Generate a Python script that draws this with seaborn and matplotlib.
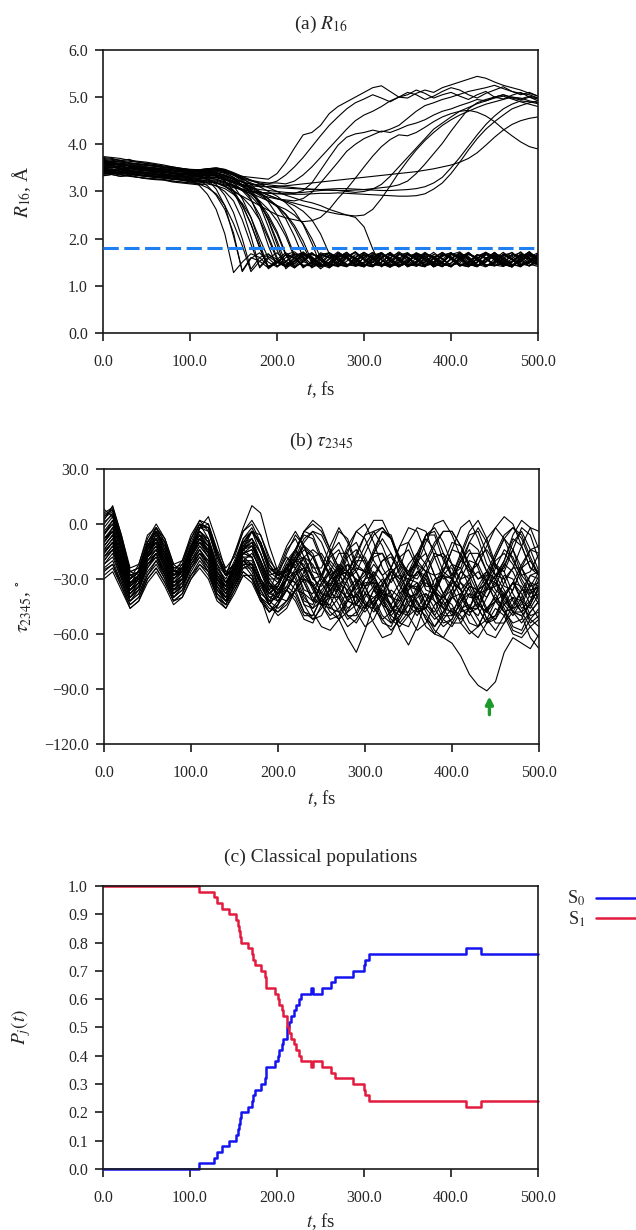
import matplotlib
matplotlib.use("Agg")
import matplotlib.pyplot as plt
from matplotlib.lines import Line2D
from matplotlib.ticker import FuncFormatter, MultipleLocator
import pandas as pd
import seaborn as sns

# sampling grid of the trajectories, fs
t_fs = list(range(0, 501, 10))

# (a) R16 in pm, trajectories that close the ring (end near 1.5 A)
r16_bound_pm = [
    [362, 360, 357, 354, 352, 349, 346, 342, 338, 334,
     326, 314, 294, 262, 210, 128, 150, 168, 160, 142,
     148, 166, 172, 158, 140, 146, 164, 158, 143, 152,
     170, 162, 147, 139, 155, 168, 160, 145, 150, 166,
     158, 142, 146, 163, 171, 155, 141, 150, 165, 157, 146],
    [348, 352, 350, 346, 345, 343, 341, 338, 335, 333,
     330, 324, 312, 292, 262, 212, 130, 158, 170, 150,
     140, 152, 168, 162, 145, 141, 158, 172, 160, 146,
     150, 165, 155, 140, 147, 163, 168, 152, 143, 156,
     170, 158, 144, 150, 166, 161, 146, 140, 157, 168, 154],
    [372, 370, 366, 368, 362, 360, 357, 352, 350, 345,
     342, 336, 326, 305, 270, 205, 132, 160, 152, 138,
     150, 166, 158, 142, 148, 170, 164, 148, 140, 156,
     164, 150, 142, 158, 172, 160, 145, 150, 162, 148,
     140, 156, 168, 158, 144, 146, 165, 170, 152, 142, 158],
    [356, 358, 355, 350, 352, 348, 344, 345, 340, 336,
     335, 332, 326, 315, 292, 255, 200, 135, 160, 168,
     150, 140, 152, 166, 160, 144, 148, 168, 162, 146,
     141, 157, 170, 158, 143, 150, 164, 156, 140, 148,
     166, 172, 156, 142, 151, 163, 148, 140, 160, 170, 158],
    [340, 338, 342, 336, 334, 332, 330, 328, 326, 324,
     320, 316, 308, 295, 270, 232, 185, 130, 152, 166,
     156, 140, 146, 162, 170, 154, 141, 150, 167, 160,
     144, 142, 160, 168, 152, 145, 158, 171, 158, 142,
     148, 165, 160, 143, 150, 168, 162, 146, 140, 156, 165],
    [365, 362, 360, 358, 355, 352, 350, 348, 345, 342,
     340, 338, 340, 334, 322, 300, 262, 205, 138, 158,
     170, 152, 140, 150, 166, 160, 145, 142, 162, 172,
     156, 143, 150, 165, 158, 140, 148, 168, 163, 147,
     142, 159, 170, 155, 141, 152, 166, 158, 144, 150, 164],
    [350, 346, 348, 344, 342, 340, 337, 335, 332, 330,
     326, 322, 318, 312, 300, 280, 240, 188, 140, 162,
     150, 142, 158, 170, 160, 146, 143, 162, 168, 151,
     140, 155, 167, 158, 145, 150, 170, 162, 146, 141,
     158, 168, 150, 142, 156, 165, 148, 140, 160, 172, 155],
    [358, 360, 354, 356, 350, 348, 347, 344, 340, 338,
     336, 335, 338, 336, 328, 312, 285, 245, 190, 138,
     156, 170, 158, 142, 148, 165, 160, 144, 141, 160,
     171, 156, 143, 152, 168, 160, 146, 142, 158, 170,
     160, 145, 150, 166, 157, 142, 148, 164, 170, 152, 143],
    [344, 342, 345, 340, 338, 336, 333, 332, 328, 326,
     324, 322, 325, 320, 312, 296, 270, 232, 180, 140,
     152, 144, 160, 172, 156, 142, 150, 166, 158, 141,
     147, 165, 170, 152, 140, 155, 163, 148, 145, 162,
     170, 158, 143, 150, 168, 160, 144, 142, 161, 167, 150],
    [368, 366, 364, 360, 358, 356, 354, 350, 348, 346,
     344, 342, 345, 346, 340, 330, 312, 284, 240, 185,
     140, 160, 168, 152, 142, 156, 170, 161, 146, 143,
     160, 170, 155, 141, 150, 166, 158, 144, 148, 165,
     162, 146, 141, 158, 171, 157, 143, 152, 167, 160, 148],
    [336, 338, 335, 332, 330, 327, 325, 324, 320, 318,
     316, 314, 316, 312, 306, 294, 275, 245, 200, 158,
     142, 150, 165, 170, 155, 140, 146, 162, 160, 144,
     150, 168, 161, 145, 142, 158, 170, 154, 141, 149,
     166, 160, 144, 150, 170, 163, 147, 140, 155, 168, 157],
    [360, 357, 359, 354, 352, 350, 349, 346, 344, 341,
     340, 338, 342, 345, 342, 335, 322, 302, 272, 225,
     175, 140, 154, 168, 162, 146, 141, 160, 171, 155,
     143, 150, 166, 159, 142, 148, 168, 164, 149, 140,
     156, 170, 158, 143, 152, 165, 150, 141, 160, 172, 153],
    [347, 345, 343, 346, 341, 339, 336, 334, 332, 330,
     328, 326, 329, 330, 326, 318, 302, 282, 250, 205,
     160, 142, 152, 166, 158, 141, 149, 170, 160, 145,
     142, 160, 170, 154, 143, 150, 165, 158, 140, 152,
     168, 161, 145, 142, 158, 170, 152, 144, 151, 166, 160],
    [352, 355, 350, 348, 350, 345, 342, 343, 338, 336,
     334, 333, 336, 338, 334, 326, 315, 298, 275, 240,
     195, 148, 138, 155, 168, 160, 144, 143, 162, 170,
     154, 141, 150, 166, 160, 145, 142, 158, 171, 156,
     143, 152, 167, 158, 141, 148, 168, 163, 147, 142, 159],
    [364, 362, 365, 360, 357, 355, 353, 351, 348, 346,
     345, 344, 346, 348, 345, 338, 325, 305, 278, 238,
     188, 136, 152, 166, 157, 142, 148, 170, 162, 146,
     140, 158, 169, 154, 143, 152, 166, 158, 141, 149,
     167, 160, 145, 141, 158, 171, 155, 143, 152, 165, 150],
    [340, 343, 338, 340, 335, 334, 332, 330, 327, 326,
     324, 325, 328, 326, 320, 312, 302, 290, 270, 245,
     210, 165, 138, 152, 168, 160, 145, 141, 158, 172,
     157, 143, 150, 166, 160, 142, 146, 167, 162, 148,
     140, 156, 170, 158, 142, 150, 165, 155, 141, 152, 168],
    [355, 352, 354, 350, 348, 347, 345, 342, 341, 338,
     338, 340, 343, 340, 334, 325, 312, 296, 276, 250,
     215, 168, 142, 158, 170, 156, 141, 148, 165, 160,
     145, 140, 158, 171, 155, 143, 152, 168, 160, 146,
     141, 160, 169, 153, 142, 150, 166, 158, 144, 148, 164],
    [370, 368, 366, 364, 362, 359, 357, 354, 352, 349,
     347, 346, 348, 350, 346, 338, 328, 315, 298, 278,
     250, 212, 165, 138, 152, 168, 160, 144, 142, 160,
     171, 156, 143, 150, 167, 160, 145, 140, 157, 170,
     158, 142, 150, 166, 160, 144, 141, 158, 172, 156, 145],
    [345, 348, 342, 344, 340, 338, 336, 335, 332, 330,
     329, 328, 330, 326, 320, 314, 305, 294, 280, 262,
     238, 205, 160, 140, 148, 166, 170, 155, 141, 150,
     165, 160, 144, 142, 158, 170, 156, 143, 151, 167,
     160, 145, 140, 157, 169, 154, 142, 150, 166, 158, 146],
    [358, 356, 360, 355, 353, 350, 349, 347, 344, 342,
     340, 339, 342, 343, 338, 330, 320, 310, 298, 285,
     268, 242, 205, 160, 138, 150, 166, 161, 145, 142,
     160, 171, 156, 143, 150, 167, 158, 142, 147, 165,
     170, 155, 141, 150, 166, 160, 144, 142, 160, 172, 158],
    [350, 347, 349, 345, 343, 341, 340, 337, 335, 334,
     332, 333, 335, 332, 326, 318, 310, 302, 292, 280,
     268, 250, 222, 185, 148, 140, 156, 168, 160, 145,
     142, 160, 170, 152, 140, 150, 165, 158, 144, 150,
     167, 162, 146, 141, 158, 170, 155, 143, 152, 164, 157],
    [362, 360, 358, 356, 354, 351, 349, 347, 345, 343,
     342, 341, 344, 346, 342, 334, 326, 318, 310, 300,
     290, 276, 258, 230, 190, 145, 138, 154, 167, 160,
     145, 143, 161, 170, 154, 141, 150, 166, 158, 142,
     148, 168, 162, 146, 140, 157, 171, 156, 143, 152, 166],
    [338, 340, 336, 338, 334, 332, 330, 329, 326, 324,
     322, 322, 324, 322, 316, 310, 302, 296, 288, 280,
     270, 262, 250, 232, 200, 160, 138, 150, 166, 159,
     144, 141, 158, 170, 157, 143, 152, 168, 160, 146,
     142, 160, 171, 155, 141, 150, 165, 158, 143, 149, 168],
    [352, 350, 353, 348, 346, 345, 342, 340, 338, 337,
     335, 336, 338, 335, 330, 322, 315, 308, 300, 292,
     285, 278, 270, 258, 240, 210, 168, 140, 152, 166,
     160, 145, 142, 160, 170, 154, 141, 150, 167, 158,
     143, 148, 166, 161, 145, 142, 158, 171, 156, 142, 150],
    [366, 364, 362, 360, 358, 356, 353, 351, 349, 347,
     346, 345, 348, 350, 347, 340, 332, 324, 316, 308,
     300, 292, 286, 280, 276, 270, 262, 256, 250, 245,
     225, 178, 140, 152, 168, 160, 144, 141, 160, 171,
     156, 142, 150, 166, 158, 143, 147, 167, 162, 146, 141],
    [342, 344, 340, 342, 338, 336, 335, 333, 330, 329,
     328, 329, 332, 330, 326, 320, 314, 306, 296, 284,
     270, 252, 228, 195, 152, 136, 150, 165, 160, 144,
     141, 158, 170, 155, 142, 150, 166, 159, 143, 148,
     168, 163, 147, 140, 156, 170, 157, 144, 150, 165, 160],
    [374, 372, 370, 366, 364, 362, 359, 356, 352, 349,
     346, 343, 340, 334, 322, 302, 272, 230, 182, 136,
     150, 166, 160, 144, 142, 161, 170, 153, 141, 150,
     167, 158, 143, 146, 165, 170, 155, 142, 150, 166,
     160, 144, 141, 158, 171, 156, 143, 152, 167, 160, 146],
    [333, 336, 332, 334, 330, 328, 327, 325, 322, 320,
     318, 317, 320, 318, 312, 302, 288, 268, 240, 200,
     155, 140, 148, 166, 160, 145, 142, 160, 171, 156,
     143, 150, 166, 158, 141, 148, 168, 163, 147, 142,
     158, 170, 154, 141, 151, 166, 160, 144, 143, 161, 170],
]

# (a) R16 in pm, trajectories that stay open (end near 5 A)
r16_open_pm = [
    [354, 356, 352, 350, 349, 347, 345, 342, 340, 338,
     336, 336, 340, 342, 340, 336, 332, 330, 328, 326,
     338, 362, 392, 420, 425, 440, 465, 480, 490, 500,
     510, 520, 524, 512, 500, 505, 515, 508, 498, 505,
     510, 502, 495, 505, 512, 500, 496, 504, 510, 500, 496],
    [345, 343, 346, 342, 340, 339, 336, 334, 332, 331,
     330, 331, 334, 335, 332, 326, 320, 316, 314, 316,
     322, 335, 352, 372, 395, 418, 440, 458, 475, 488,
     496, 505, 498, 490, 500, 510, 505, 495, 502, 512,
     520, 515, 505, 498, 508, 515, 522, 512, 505, 510, 502],
    [362, 360, 358, 355, 356, 352, 350, 348, 346, 344,
     342, 343, 346, 348, 344, 338, 330, 324, 320, 318,
     318, 316, 322, 335, 352, 372, 392, 412, 432, 450,
     462, 470, 480, 492, 500, 498, 508, 515, 510, 520,
     526, 532, 538, 544, 540, 532, 525, 520, 515, 508, 502],
    [340, 338, 341, 337, 335, 333, 331, 330, 327, 325,
     323, 322, 325, 324, 318, 312, 305, 300, 298, 296,
     295, 294, 296, 302, 318, 345, 372, 398, 415, 422,
     425, 430, 426, 432, 440, 455, 470, 482, 488, 495,
     500, 506, 512, 516, 520, 525, 518, 512, 508, 505, 498],
    [350, 352, 348, 350, 346, 344, 342, 340, 338, 336,
     334, 335, 338, 336, 330, 322, 312, 302, 294, 288,
     284, 282, 280, 285, 298, 318, 340, 362, 385, 400,
     412, 420, 428, 425, 432, 440, 445, 452, 462, 470,
     475, 482, 488, 495, 492, 500, 505, 498, 494, 500, 492],
    [338, 340, 337, 336, 334, 332, 330, 328, 326, 325,
     322, 320, 322, 318, 310, 300, 290, 280, 270, 260,
     250, 244, 240, 236, 238, 245, 262, 285, 305, 328,
     352, 375, 395, 410, 420, 418, 425, 436, 448, 458,
     465, 470, 472, 468, 460, 448, 432, 418, 405, 395, 390],
    [358, 356, 357, 353, 351, 349, 347, 345, 343, 341,
     340, 339, 341, 340, 335, 328, 320, 310, 300, 292,
     285, 280, 275, 270, 265, 260, 256, 252, 250, 248,
     250, 262, 285, 312, 340, 365, 388, 408, 425, 440,
     452, 462, 470, 478, 485, 490, 495, 500, 498, 492, 488],
    [346, 344, 347, 343, 341, 340, 338, 336, 334, 332,
     331, 332, 335, 333, 327, 320, 314, 308, 304, 302,
     300, 298, 297, 298, 300, 302, 303, 302, 300, 298,
     300, 305, 315, 332, 352, 372, 392, 412, 432, 445,
     458, 470, 478, 486, 492, 498, 502, 496, 490, 485, 480],
    [366, 363, 365, 361, 359, 357, 355, 352, 350, 348,
     346, 346, 348, 347, 342, 335, 328, 322, 318, 314,
     312, 310, 308, 306, 305, 304, 303, 302, 302, 303,
     304, 306, 308, 310, 314, 322, 338, 358, 380, 402,
     428, 452, 475, 488, 495, 500, 505, 500, 496, 502, 498],
    [334, 336, 332, 334, 330, 328, 326, 325, 322, 320,
     318, 318, 320, 318, 314, 308, 304, 300, 298, 297,
     296, 295, 294, 294, 295, 296, 296, 297, 296, 295,
     294, 293, 292, 291, 290, 290, 291, 295, 305, 318,
     338, 362, 388, 412, 432, 448, 462, 475, 482, 488, 492],
    [352, 350, 354, 349, 347, 346, 344, 342, 340, 338,
     337, 338, 341, 339, 333, 326, 320, 315, 312, 310,
     308, 307, 306, 305, 304, 304, 305, 306, 306, 305,
     304, 303, 302, 302, 303, 304, 306, 310, 318, 330,
     350, 372, 396, 420, 442, 460, 475, 485, 492, 490, 486],
    [340, 342, 339, 340, 336, 334, 333, 331, 328, 327,
     326, 327, 330, 329, 324, 318, 314, 312, 310, 310,
     311, 312, 314, 316, 318, 320, 322, 324, 326, 328,
     330, 332, 334, 336, 338, 340, 342, 345, 348, 352,
     356, 362, 370, 382, 398, 415, 430, 442, 450, 455, 458],
]
r16_threshold = 1.8  # A, dashed reference line

# (b) torsion tau2345 in degrees
tau2345_deg = [
    [-10, -2, -20, -33, -25, -12, -8, -20, -30, -24,
     -12, -6, -16, -30, -34, -22, -14, -18, -30, -36,
     -26, -18, -24, -36, -38, -28, -20, -26, -38, -40,
     -30, -22, -28, -40, -42, -32, -22, -26, -38, -40,
     -30, -20, -24, -36, -40, -30, -22, -26, -36, -38, -28],
    [5, 8, -10, -28, -30, -18, -5, -10, -25, -28,
     -18, -2, 0, -15, -28, -26, -12, -4, -10, -22,
     -30, -28, -18, -8, -4, -10, -22, -28, -26, -16,
     -6, -4, -12, -24, -30, -26, -16, -6, -2, -10,
     -22, -30, -28, -18, -8, -2, -8, -20, -28, -26, -16],
    [-25, -22, -32, -42, -38, -28, -22, -30, -40, -36,
     -28, -20, -26, -38, -44, -36, -26, -30, -42, -48,
     -42, -34, -38, -48, -52, -46, -38, -40, -50, -54,
     -46, -36, -40, -52, -56, -50, -40, -38, -46, -54,
     -52, -42, -38, -46, -54, -52, -44, -40, -48, -56, -52],
    [-15, -10, -25, -38, -32, -18, -14, -24, -36, -30,
     -18, -10, -18, -32, -38, -28, -16, -12, -20, -32,
     -40, -42, -36, -26, -18, -16, -24, -34, -42, -44,
     -38, -28, -20, -18, -26, -38, -46, -46, -38, -28,
     -22, -24, -34, -44, -48, -42, -32, -24, -24, -32, -42],
    [0, 6, -12, -30, -26, -10, -4, -16, -28, -22,
     -8, 0, -8, -24, -30, -20, -8, -4, -16, -28,
     -26, -14, -8, -18, -30, -28, -16, -10, -20, -32,
     -28, -16, -8, -16, -28, -30, -18, -8, -14, -26,
     -30, -20, -10, -14, -26, -30, -20, -8, -12, -24, -28],
    [-20, -14, -28, -40, -34, -22, -16, -26, -38, -34,
     -24, -16, -20, -34, -42, -34, -24, -22, -32, -44,
     -50, -46, -36, -30, -34, -44, -52, -50, -40, -32,
     -34, -44, -54, -56, -46, -36, -32, -40, -50, -56,
     -52, -42, -34, -36, -46, -54, -54, -44, -36, -36, -44],
    [2, 10, -6, -26, -28, -14, -2, -8, -22, -26,
     -16, -2, 4, -10, -26, -28, -14, -4, -6, -18,
     -28, -26, -14, -4, -6, -18, -30, -28, -16, -4,
     0, -10, -24, -32, -24, -10, -2, -4, -18, -30,
     -28, -16, -4, 2, -8, -22, -30, -24, -12, -2, -4],
    [-8, -4, -18, -34, -30, -16, -10, -20, -32, -28,
     -16, -8, -12, -28, -36, -28, -16, -14, -26, -36,
     -32, -22, -24, -38, -42, -32, -24, -30, -42, -44,
     -34, -26, -32, -46, -48, -36, -26, -30, -42, -46,
     -36, -26, -30, -44, -48, -38, -28, -30, -42, -46, -38],
    [-12, -6, -22, -36, -30, -16, -10, -22, -34, -28,
     -16, -8, -16, -30, -36, -26, -16, -18, -30, -38,
     -34, -24, -20, -30, -40, -44, -36, -28, -34, -44,
     -48, -42, -36, -40, -48, -50, -46, -50, -58, -62,
     -65, -72, -82, -88, -91, -86, -70, -62, -65, -68, -60],
    [-28, -24, -34, -44, -40, -30, -24, -32, -42, -38,
     -28, -22, -28, -40, -44, -34, -26, -30, -40, -46,
     -48, -42, -36, -38, -48, -56, -58, -52, -42, -38,
     -44, -54, -62, -60, -50, -42, -42, -52, -60, -62,
     -54, -46, -44, -52, -60, -62, -54, -48, -50, -62, -68],
    [8, 4, -14, -30, -22, -6, -2, -14, -26, -20,
     -6, 2, -4, -20, -28, -16, -4, 0, -10, -24,
     -28, -24, -14, -4, 0, -4, -14, -24, -28, -22,
     -12, -4, -2, -8, -20, -28, -28, -20, -10, -4,
     -4, -12, -24, -30, -26, -16, -6, -2, -8, -20, -28],
    [-18, -12, -26, -38, -34, -20, -16, -28, -38, -32,
     -20, -14, -22, -36, -40, -30, -20, -26, -38, -42,
     -34, -24, -30, -42, -44, -32, -26, -36, -46, -42,
     -30, -28, -40, -48, -40, -30, -32, -44, -48, -38,
     -30, -36, -46, -46, -34, -28, -36, -46, -44, -34, -32],
    [-5, 0, -16, -32, -28, -14, -8, -18, -30, -26,
     -14, -4, -10, -26, -34, -26, -14, -10, -22, -34,
     -38, -34, -24, -18, -22, -32, -40, -40, -30, -20,
     -20, -30, -40, -44, -36, -26, -20, -26, -38, -44,
     -40, -30, -20, -22, -32, -42, -44, -36, -24, -20, -28],
    [-22, -16, -30, -42, -36, -24, -18, -28, -40, -34,
     -22, -16, -24, -38, -42, -30, -20, -24, -36, -44,
     -38, -30, -36, -48, -50, -40, -32, -40, -50, -50,
     -40, -34, -44, -54, -50, -40, -38, -48, -56, -50,
     -40, -38, -48, -56, -52, -42, -38, -48, -54, -48, -42],
    [-6, 2, -14, -30, -26, -12, -4, -14, -28, -24,
     -12, -4, -8, -22, -28, -16, -2, 10, 6, -12,
     -26, -30, -20, -12, -16, -28, -34, -26, -14, -10,
     -20, -32, -34, -24, -12, -10, -22, -34, -34, -22,
     -10, -12, -24, -36, -32, -18, -8, -14, -28, -34, -26],
    [-14, -8, -24, -36, -30, -18, -12, -22, -34, -30,
     -18, -10, -14, -30, -38, -28, -18, -22, -40, -54,
     -44, -30, -26, -32, -42, -44, -34, -24, -28, -40,
     -46, -42, -32, -26, -30, -40, -48, -46, -36, -28,
     -30, -40, -48, -46, -36, -28, -30, -42, -48, -44, -34],
    [-16, -10, -24, -36, -32, -20, -14, -24, -34, -30,
     -20, -12, -18, -32, -38, -30, -20, -22, -32, -38,
     -32, -24, -28, -40, -46, -42, -44, -52, -62, -70,
     -58, -44, -38, -44, -54, -56, -46, -38, -42, -52,
     -56, -48, -38, -40, -52, -58, -50, -40, -42, -52, -56],
    [-10, -4, -20, -34, -28, -14, -8, -18, -30, -26,
     -14, -6, -12, -28, -34, -24, -12, -12, -24, -34,
     -34, -24, -18, -24, -34, -38, -30, -22, -26, -38,
     -44, -40, -36, -44, -58, -66, -56, -42, -36, -42,
     -50, -44, -34, -36, -48, -52, -40, -32, -38, -50, -48],
    [-2, 4, -12, -28, -26, -12, -4, -12, -26, -26,
     -14, -2, -2, -16, -28, -24, -10, -4, -10, -24,
     -28, -16, -6, -12, -26, -28, -16, -4, -8, -22,
     -26, -16, -4, -6, -20, -28, -20, -6, -4, -16,
     -28, -24, -10, -2, -10, -24, -26, -14, -2, -6, -20],
    [-24, -20, -32, -44, -40, -28, -20, -30, -42, -38,
     -26, -18, -26, -40, -44, -32, -22, -28, -40, -44,
     -36, -28, -32, -44, -52, -50, -40, -32, -36, -48,
     -56, -52, -42, -36, -40, -50, -58, -54, -44, -40,
     -44, -54, -60, -56, -46, -42, -48, -58, -60, -52, -46],
    [-12, -6, -22, -34, -28, -14, -10, -22, -32, -26,
     -14, -8, -14, -28, -34, -24, -14, -10, -20, -32,
     -38, -36, -28, -18, -14, -18, -28, -36, -40, -34,
     -24, -16, -16, -24, -34, -40, -38, -28, -18, -16,
     -22, -32, -40, -40, -30, -20, -16, -22, -32, -40, -38],
    [3, 7, -8, -26, -24, -10, -2, -10, -24, -22,
     -10, 0, -2, -18, -28, -22, -8, -2, -12, -26,
     -24, -12, -4, -12, -24, -24, -12, -2, -10, -24,
     -26, -14, -4, -8, -22, -28, -18, -6, -6, -20,
     -28, -18, -6, -4, -16, -28, -24, -10, -4, -14, -26],
    [-18, -12, -28, -40, -34, -22, -16, -26, -36, -32,
     -22, -14, -22, -34, -40, -32, -22, -22, -34, -42,
     -46, -42, -32, -28, -34, -44, -50, -46, -36, -30,
     -34, -46, -52, -48, -38, -32, -36, -46, -52, -48,
     -38, -32, -36, -46, -54, -50, -40, -32, -34, -44, -52],
    [-8, -2, -18, -32, -28, -14, -6, -16, -28, -26,
     -14, -6, -8, -22, -32, -26, -14, -8, -16, -30,
     -36, -30, -18, -12, -18, -30, -36, -30, -18, -14,
     -22, -34, -38, -30, -18, -14, -24, -36, -38, -26,
     -14, -16, -28, -38, -36, -24, -14, -18, -30, -38, -34],
    [-14, -8, -22, -36, -32, -18, -12, -22, -34, -30,
     -18, -10, -16, -30, -36, -26, -16, -18, -30, -38,
     -34, -24, -20, -26, -36, -44, -46, -40, -30, -24,
     -26, -36, -44, -48, -42, -32, -26, -28, -38, -46,
     -48, -40, -30, -26, -32, -42, -48, -46, -36, -28, -30],
    [-26, -22, -34, -46, -42, -30, -24, -32, -42, -40,
     -30, -22, -26, -40, -46, -38, -28, -28, -40, -48,
     -44, -36, -42, -52, -54, -44, -40, -48, -56, -52,
     -44, -42, -52, -58, -52, -44, -46, -56, -60, -52,
     -46, -50, -58, -62, -54, -46, -50, -60, -62, -56, -62],
    [6, 9, -6, -24, -22, -8, 0, -8, -22, -20,
     -8, 2, 0, -14, -24, -18, -4, 2, -6, -20,
     -26, -26, -16, -4, 2, -2, -14, -24, -26, -18,
     -6, 2, 2, -8, -20, -26, -22, -10, 0, 2,
     -6, -18, -26, -22, -12, -2, 4, 0, -12, -24, -26],
    [-16, -10, -26, -38, -34, -20, -14, -24, -36, -32,
     -20, -12, -18, -32, -40, -30, -18, -18, -30, -40,
     -38, -26, -22, -32, -42, -42, -30, -24, -32, -44,
     -46, -36, -30, -38, -48, -48, -36, -30, -38, -50,
     -50, -38, -32, -40, -52, -50, -38, -32, -42, -54, -50],
    [-6, 0, -16, -32, -30, -16, -8, -16, -28, -26,
     -14, -6, -10, -24, -32, -24, -12, -8, -16, -28,
     -32, -22, -14, -24, -34, -30, -18, -14, -26, -36,
     -30, -18, -16, -28, -38, -32, -20, -16, -28, -38,
     -32, -20, -14, -24, -36, -34, -22, -14, -24, -36, -34],
    [-20, -14, -28, -40, -36, -22, -18, -28, -38, -34,
     -24, -16, -22, -36, -42, -34, -24, -24, -36, -44,
     -48, -44, -36, -30, -32, -40, -48, -52, -48, -38,
     -32, -32, -42, -50, -54, -48, -38, -32, -36, -46,
     -54, -54, -46, -36, -32, -38, -48, -54, -52, -42, -36],
    [-4, 2, -14, -30, -26, -12, -6, -16, -28, -24,
     -12, -4, -10, -26, -32, -22, -10, -8, -20, -32,
     -36, -30, -20, -14, -18, -28, -36, -36, -26, -18,
     -18, -28, -38, -40, -32, -22, -16, -22, -34, -40,
     -36, -26, -16, -16, -26, -36, -40, -32, -22, -14, -12],
    [-30, -26, -36, -46, -42, -32, -26, -34, -44, -40,
     -30, -24, -30, -42, -46, -36, -28, -32, -42, -48,
     -44, -36, -40, -50, -50, -40, -36, -44, -52, -48,
     -38, -40, -50, -54, -46, -38, -42, -52, -56, -48,
     -40, -44, -54, -56, -46, -40, -46, -56, -58, -48, -42],
    [-10, -4, -20, -34, -30, -16, -10, -20, -32, -28,
     -16, -8, -12, -26, -34, -26, -14, -12, -22, -34,
     -38, -30, -20, -18, -28, -38, -40, -30, -22, -26,
     -38, -44, -38, -26, -22, -32, -44, -46, -36, -24,
     -24, -36, -46, -44, -32, -22, -26, -38, -46, -42, -30],
    [1, 5, -10, -28, -26, -12, -4, -12, -26, -24,
     -12, -2, -4, -18, -28, -22, -10, -4, -12, -26,
     -30, -28, -20, -10, -4, -6, -16, -26, -30, -26,
     -16, -6, -2, -8, -18, -28, -30, -22, -12, -4,
     -4, -12, -22, -30, -28, -18, -8, -2, -6, -18, -28],
    [-16, -10, -26, -38, -32, -18, -12, -24, -36, -30,
     -18, -10, -16, -30, -38, -30, -20, -16, -24, -36,
     -42, -36, -26, -24, -34, -44, -44, -34, -26, -30,
     -42, -48, -42, -30, -28, -38, -48, -46, -34, -28,
     -34, -46, -50, -40, -30, -32, -44, -50, -42, -32, -34],
    [-22, -18, -30, -42, -38, -26, -20, -28, -40, -36,
     -24, -18, -24, -36, -42, -34, -22, -22, -32, -42,
     -40, -30, -32, -44, -46, -36, -30, -38, -48, -44,
     -34, -32, -42, -50, -44, -34, -34, -44, -50, -42,
     -32, -36, -46, -50, -40, -32, -38, -48, -48, -38, -34],
    [-8, -4, -18, -32, -28, -16, -8, -18, -30, -26,
     -14, -6, -12, -26, -32, -24, -14, -10, -20, -30,
     -30, -20, -14, -20, -30, -34, -26, -16, -16, -26,
     -34, -30, -20, -16, -24, -34, -36, -26, -16, -18,
     -30, -36, -30, -18, -14, -22, -34, -36, -24, -14, -16],
    [-12, -6, -22, -36, -32, -18, -10, -20, -32, -30,
     -18, -8, -14, -28, -36, -28, -16, -14, -26, -38,
     -40, -30, -20, -22, -34, -42, -38, -26, -22, -32,
     -44, -46, -34, -26, -32, -44, -50, -42, -30, -28,
     -38, -48, -46, -34, -26, -30, -42, -48, -40, -28, -26],
    [4, 8, -8, -26, -24, -10, -2, -10, -24, -24,
     -12, 0, -2, -16, -26, -22, -10, -4, -10, -22,
     -28, -24, -14, -6, -8, -20, -28, -24, -12, -4,
     -8, -20, -28, -24, -12, -2, -4, -16, -28, -26,
     -14, -2, 2, -8, -22, -28, -20, -6, 2, -2, -14],
    [-18, -14, -28, -40, -36, -24, -16, -26, -36, -34,
     -22, -14, -20, -34, -40, -32, -20, -20, -32, -40,
     -42, -36, -28, -24, -28, -38, -46, -48, -42, -32,
     -26, -28, -38, -46, -50, -44, -34, -26, -28, -38,
     -48, -52, -46, -36, -28, -30, -40, -48, -50, -44, -34],
]
# green arrow under the deepest torsion minimum
arrow_t_fs = 443
arrow_tau_tip = -94
arrow_tau_tail = -104

# (c) classical populations, value after each hop time (steps-post)
hop_t_fs = [0, 110, 127, 131, 137, 145, 153, 155, 156, 157, 159, 167, 171, 172,
            175, 182, 186, 187, 198, 201, 202, 206, 207, 211, 212, 214, 216,
            219, 222, 225, 227, 239, 241, 252, 262, 267, 287, 300, 301, 306,
            417, 434, 500]
pop_s0 = [0.00, 0.02, 0.04, 0.06, 0.08, 0.10, 0.12, 0.14, 0.16, 0.18, 0.20,
          0.22, 0.24, 0.26, 0.28, 0.30, 0.32, 0.36, 0.38, 0.40, 0.42, 0.44,
          0.46, 0.48, 0.50, 0.52, 0.54, 0.56, 0.58, 0.60, 0.62, 0.64, 0.62,
          0.64, 0.66, 0.68, 0.70, 0.72, 0.74, 0.76, 0.78, 0.76, 0.76]
pop_s1 = [1.00, 0.98, 0.96, 0.94, 0.92, 0.90, 0.88, 0.86, 0.84, 0.82, 0.80,
          0.78, 0.76, 0.74, 0.72, 0.70, 0.68, 0.64, 0.62, 0.60, 0.58, 0.56,
          0.54, 0.52, 0.50, 0.48, 0.46, 0.44, 0.42, 0.40, 0.38, 0.36, 0.38,
          0.36, 0.34, 0.32, 0.30, 0.28, 0.26, 0.24, 0.22, 0.24, 0.24]
state_labels = ["S$_0$", "S$_1$"]
state_colors = ["#1414f0", "#e31b3e"]


def long_frame(trajectories, scale=1.0):
    """Stack trajectory lists into a long table for seaborn."""
    rows = []
    for k, vals in enumerate(trajectories):
        if len(vals) != len(t_fs):
            print(f"trajectory {k}: {len(vals)} points, expected {len(t_fs)}")
        for t, v in zip(t_fs, vals):
            rows.append((k, t, v * scale))
    return pd.DataFrame(rows, columns=["traj", "t", "value"])


# one decimal, typographic minus sign as in the original figure
one_decimal = FuncFormatter(lambda v, _: f"{v:.1f}".replace("-", "\u2212"))


def style_axis(ax, ylim, ystep, xlabel_y):
    ax.set_xlim(0, 500)
    ax.set_ylim(*ylim)
    ax.xaxis.set_major_locator(MultipleLocator(100))
    ax.yaxis.set_major_locator(MultipleLocator(ystep))
    ax.xaxis.set_major_formatter(one_decimal)
    ax.yaxis.set_major_formatter(one_decimal)
    for side in ["top", "right", "left", "bottom"]:
        ax.spines[side].set_visible(True)
        ax.spines[side].set_linewidth(1.2)
        ax.spines[side].set_color("#1a1a1a")
    ax.tick_params(axis="both", direction="out", length=6, width=1.2,
                   color="#1a1a1a", labelsize=11.5, top=False, right=False)
    ax.tick_params(axis="x", pad=9)
    ax.tick_params(axis="y", pad=5)
    ax.set_xlabel("$t$, fs", fontsize=13.5)
    ax.xaxis.set_label_coords(0.5, xlabel_y)
    ax.yaxis.set_label_coords(-0.16, 0.5)


sns.set_theme(style="ticks")
plt.rcParams["font.family"] = ["Liberation Serif", "DejaVu Serif"]
plt.rcParams["mathtext.fontset"] = "stix"

fig = plt.figure(figsize=(6.36, 12.30), dpi=100)
ax_a = fig.add_axes([0.162, 0.7293, 0.684, 0.2301])
ax_b = fig.add_axes([0.1635, 0.3951, 0.684, 0.2236])
ax_c = fig.add_axes([0.162, 0.0496, 0.684, 0.2301])

# (a) R16
df_a = pd.concat([long_frame(r16_bound_pm, 0.01),
                  long_frame(r16_open_pm, 0.01).assign(traj=lambda d: d.traj + 100)])
sns.lineplot(data=df_a, x="t", y="value", units="traj", estimator=None,
             color="black", lw=0.8, ax=ax_a, legend=False)
ax_a.axhline(r16_threshold, color="#1f7ff0", lw=2.2, dashes=(5, 1.8), zorder=5)
style_axis(ax_a, (0, 6), 1, -0.165)
ax_a.set_ylabel("$R_{16}$, Å", fontsize=14)
ax_a.text(0.5, 1 + 25 / 283, "(a) $R_{16}$", transform=ax_a.transAxes,
          ha="center", va="center", fontsize=14)

# (b) tau2345
df_b = long_frame(tau2345_deg)
sns.lineplot(data=df_b, x="t", y="value", units="traj", estimator=None,
             color="black", lw=0.8, ax=ax_b, legend=False)
ax_b.annotate("", xy=(arrow_t_fs, arrow_tau_tip), xytext=(arrow_t_fs, arrow_tau_tail),
              arrowprops=dict(arrowstyle="-|>", color="#1d9a2b", lw=2.4,
                              mutation_scale=11, shrinkA=0, shrinkB=0))
style_axis(ax_b, (-120, 30), 30, -0.16)
ax_b.set_ylabel(r"$\tau_{2345}$, $^{\circ}$", fontsize=14)
ax_b.text(0.5, 1 + 28 / 275, r"(b) $\tau_{2345}$", transform=ax_b.transAxes,
          ha="center", va="center", fontsize=14)

# (c) classical populations
df_c = pd.concat([
    pd.DataFrame({"t": hop_t_fs, "P": pop_s0, "state": state_labels[0]}),
    pd.DataFrame({"t": hop_t_fs, "P": pop_s1, "state": state_labels[1]}),
])
sns.lineplot(data=df_c, x="t", y="P", hue="state", palette=state_colors,
             estimator=None, drawstyle="steps-post", lw=1.8, ax=ax_c,
             legend=False, clip_on=False)
style_axis(ax_c, (0, 1), 0.1, -0.148)
ax_c.set_ylabel("$P_j(t)$", fontsize=14)
ax_c.text(0.5, 1 + 29 / 283, "(c) Classical populations", transform=ax_c.transAxes,
          ha="center", va="center", fontsize=14)

handles = [Line2D([], [], color=c, lw=1.8) for c in state_colors]
fig.legend(handles, state_labels, loc="upper left",
           bbox_to_anchor=(567 / 636, 1 - 889 / 1230), frameon=False,
           markerfirst=False, handlelength=3.4, handletextpad=0.6,
           labelspacing=0.05, borderpad=0, borderaxespad=0, fontsize=13)

fig.savefig("out.png", dpi=100)
